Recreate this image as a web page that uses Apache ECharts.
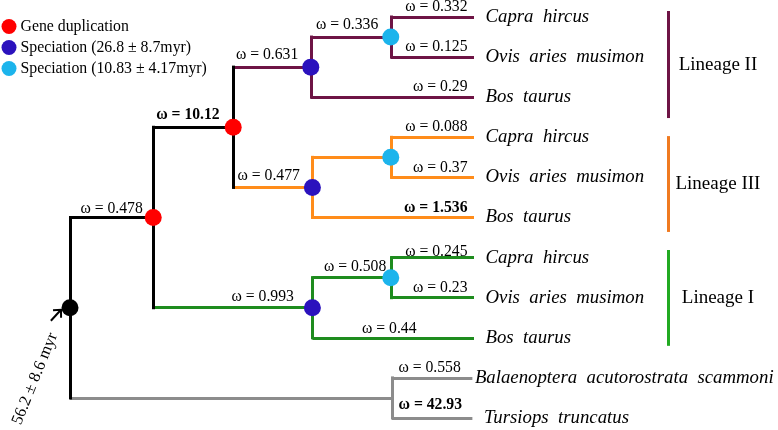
<!DOCTYPE html>
<html><head><meta charset="utf-8">
<script src="https://cdn.jsdelivr.net/npm/echarts@6/dist/echarts.min.js"></script>
<style>html,body{margin:0;padding:0;background:#fff}#c{width:778px;height:430px}</style>
</head><body><div id="c"></div>
<script>
// ---------------- data ----------------
const nodeName    = ['root','dup1','dup2','specII','spec2II','Capra  hircus','Ovis  aries  musimon','Bos  taurus','specIII','spec2III','Capra  hircus','Ovis  aries  musimon','Bos  taurus','specI','spec2I','Capra  hircus','Ovis  aries  musimon','Bos  taurus','cetacea','Balaenoptera  acutorostrata  scammoni','Tursiops  truncatus'];
const nodeParent  = [-1,0,1,2,3,4,4,3,2,8,9,9,8,1,13,14,14,13,0,18,18];
const nodeDepth   = [0,1.03,2.02,2.98,3.97,5,5,5,3.0,3.97,5,5,5,3.0,3.97,5,5,5,3.985,4.98,4.98];
const nodeEvent   = ['root','dup','dup','specA','specB','leaf','leaf','leaf','specA','specB','leaf','leaf','leaf','specA','specB','leaf','leaf','leaf','none','leaf','leaf'];
const nodeLineage = ['base','base','base','II','II','II','II','II','III','III','III','III','III','I','I','I','I','I','out','out','out'];
const branchOmega = ['','0.478','10.12','0.631','0.336','0.332','0.125','0.29','0.477','','0.088','0.37','1.536','0.993','0.508','0.245','0.23','0.44','','0.558','42.93'];
const branchBold  = [0,0,1,0,0,0,0,0,0,0,0,0,1,0,0,0,0,0,0,0,1];
const eventNames  = {dup:'Gene duplication', specA:'Speciation (26.8 ± 8.7myr)', specB:'Speciation (10.83 ± 4.17myr)'};
const lineageKeys  = ['II','III','I'];
const lineageNames = ['Lineage II','Lineage III','Lineage I'];
const lineageSpan  = [[-0.15,2.52],[2.97,5.36],[5.81,8.2]];
const rootAge = '56.2 ± 8.6 myr';

// ---------------- styles ----------------
const branchColor = {base:'#000000', II:'#6e1445', III:'#ff8c1a', I:'#1e8c1e', out:'#8c8c8c'};
const barColor    = {II:'#6e1445', III:'#f07a20', I:'#22aa22'};
const eventColor  = {root:'#000000', dup:'#ff0000', specA:'#2b12bd', specB:'#1cb4ec'};
const SERIF = 'Liberation Serif';
const labelPlace = {1:{dist:10,dy:-9},2:{dist:13,dy:-12},13:{dist:18,dy:-11},14:{dist:4,dy:-11},15:{dy:-6},17:{dist:57,dy:-9},19:{side:'right',dist:6,dy:-10},20:{side:'right',dist:6,dy:-13}};
const barX = 7.4;

// ---------------- layout ----------------
const N = nodeName.length;
const children = Array.from({length:N},()=>[]);
nodeParent.forEach((p,i)=>{ if(p>=0) children[p].push(i); });
const nodeY = new Array(N);
let leafCounter = 0;
(function assign(i){
  if(children[i].length===0){ nodeY[i]=leafCounter++; return; }
  children[i].forEach(assign);
  nodeY[i] = children[i].reduce((s,c)=>s+nodeY[c],0)/children[i].length;
})(0);

const hSegs=[], vSegs=[];
for(let i=0;i<N;i++){
  const p=nodeParent[i]; if(p<0) continue;
  vSegs.push({coords:[[nodeDepth[p],nodeY[p]],[nodeDepth[p],nodeY[i]]], lineStyle:{color:branchColor[nodeLineage[p]]}});
  hSegs.push({coords:[[nodeDepth[p],nodeY[i]],[nodeDepth[i],nodeY[i]]], lineStyle:{color:branchColor[nodeLineage[i]]}});
}
const barSegs = lineageKeys.map((k,j)=>({coords:[[barX,lineageSpan[j][0]],[barX,lineageSpan[j][1]]], lineStyle:{color:barColor[k]}}));

function dots(ev){
  const d=[]; for(let i=0;i<N;i++) if(nodeEvent[i]===ev) d.push([nodeDepth[i],nodeY[i]]); return d;
}
const omegaData=[];
for(let i=0;i<N;i++){
  if(!branchOmega[i]) continue;
  const isLeaf = nodeEvent[i]==='leaf';
  const pl = labelPlace[i]||{};
  const side = pl.side||'left';
  const dist = pl.dist!=null?pl.dist:(isLeaf?6:12);
  const dy = pl.dy!=null?pl.dy:(isLeaf?-10:-12);
  const ax = side==='left'?nodeDepth[i]:nodeDepth[nodeParent[i]];
  omegaData.push({value:[ax,nodeY[i]], label:{formatter:'ω = '+branchOmega[i], position:side, distance:dist, offset:[0,dy], fontWeight:branchBold[i]?'bold':'normal'}});
}
const leafData=[];
for(let i=0;i<N;i++) if(nodeEvent[i]==='leaf') leafData.push({value:[nodeDepth[i],nodeY[i]], name:nodeName[i], label:{distance: i===19?2:11}});
const linLabData = lineageKeys.map((k,j)=>({value:[barX,(lineageSpan[j][0]+lineageSpan[j][1])/2], name:lineageNames[j]}));

const hidden = {symbolSize:1, itemStyle:{color:'transparent', opacity:1}, silent:true, clip:false, emphasis:{disabled:true}};
const dotStyle = (c)=>({color:c, opacity:1});
const chart = echarts.init(document.getElementById('c'), null, {renderer:'canvas'});
const option = {
  animation:false,
  backgroundColor:'#fff',
  grid:{left:70, top:17, width:404, height:401},
  xAxis:{type:'value', min:0, max:5, show:false},
  yAxis:{type:'value', min:0, max:10, inverse:true, show:false},
  legend:{orient:'vertical', left:1.5, top:18.5, padding:0, itemWidth:15, itemHeight:15, itemGap:5, icon:'circle',
    data:[eventNames.dup, eventNames.specA, eventNames.specB],
    itemStyle:{opacity:1},
    textStyle:{fontFamily:SERIF, fontSize:15.8, color:'#000', padding:[0,0,0,-1]}, selectedMode:false},
  series:[
    {type:'lines', coordinateSystem:'cartesian2d', data:hSegs, lineStyle:{width:3, opacity:1, cap:'butt'}, silent:true, clip:false, z:2},
    {type:'lines', coordinateSystem:'cartesian2d', data:vSegs, lineStyle:{width:3, opacity:1, cap:'square'}, silent:true, clip:false, z:3},
    {type:'lines', coordinateSystem:'cartesian2d', data:barSegs, lineStyle:{width:3, opacity:1}, silent:true, clip:false, z:2},
    {type:'scatter', name:'root', data:dots('root'), symbolSize:17, itemStyle:dotStyle(eventColor.root), z:5, silent:true, clip:false},
    {type:'scatter', name:eventNames.dup, data:dots('dup'), symbolSize:17, itemStyle:dotStyle(eventColor.dup), z:5, silent:true, clip:false},
    {type:'scatter', name:eventNames.specA, data:dots('specA'), symbolSize:17, itemStyle:dotStyle(eventColor.specA), z:5, silent:true, clip:false},
    {type:'scatter', name:eventNames.specB, data:dots('specB'), symbolSize:17, itemStyle:dotStyle(eventColor.specB), z:5, silent:true, clip:false},
    Object.assign({type:'scatter', name:'omega', data:omegaData, z:6,
      label:{show:true, color:'#000', opacity:1, fontFamily:SERIF, fontSize:15.7}}, hidden),
    Object.assign({type:'scatter', name:'leaves', data:leafData, z:6,
      label:{show:true, position:'right', formatter:'{b}', color:'#000', opacity:1, fontFamily:SERIF, fontStyle:'italic', fontSize:18.8}}, hidden),
    Object.assign({type:'scatter', name:'lineages', data:linLabData, z:6,
      label:{show:true, position:'inside', align:'center', offset:[50,0], formatter:'{b}', color:'#000', opacity:1, fontFamily:SERIF, fontSize:19}}, hidden)
  ]
};
chart.setOption(option);

// annotation for root age, placed relative to root node pixel
const rp = chart.convertToPixel({gridIndex:0}, [nodeDepth[0], nodeY[0]]);
const tip = [rp[0]-9, rp[1]+2];
const ang = Math.atan2(-12, 11);
const tail = [tip[0]-15*Math.cos(ang), tip[1]-15*Math.sin(ang)];
const armL = 8, spread = 0.75;
const a1 = [tip[0]-armL*Math.cos(ang-spread), tip[1]-armL*Math.sin(ang-spread)];
const a2 = [tip[0]-armL*Math.cos(ang+spread), tip[1]-armL*Math.sin(ang+spread)];
chart.setOption({graphic:[
  {type:'polyline', shape:{points:[tail,tip]}, style:{stroke:'#000', lineWidth:2, fill:null}, silent:true},
  {type:'polyline', shape:{points:[a1,tip,a2]}, style:{stroke:'#000', lineWidth:2, fill:null}, silent:true},
  {type:'text', x:rp[0]-35, y:rp[1]+71, rotation:68*Math.PI/180, style:{text:rootAge, fontFamily:SERIF, fontSize:16.5, fill:'#000', align:'center', verticalAlign:'middle'}, silent:true}
]});
</script></body></html>
